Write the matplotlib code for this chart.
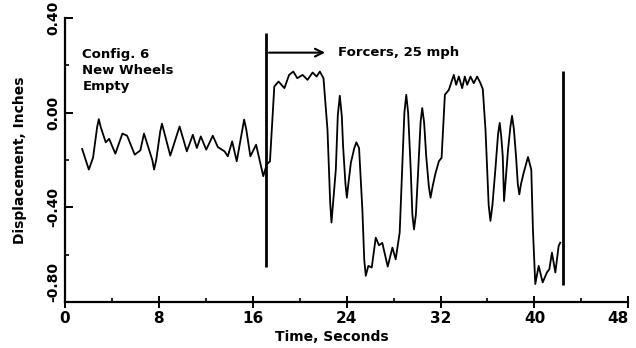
import matplotlib.pyplot as plt
import numpy as np

plt.rcParams['font.family'] = ['Liberation Sans Narrow', 'DejaVu Sans']
plt.rcParams['font.weight'] = 'bold'
plt.rcParams['axes.labelweight'] = 'bold'

# displacement trace, seconds / inches
time_s = [1.47, 2.04, 2.4, 2.75, 2.89, 3.05, 3.48, 3.77, 4.3, 4.9, 5.3, 5.95,
          6.43, 6.74, 7.45, 7.6, 7.78, 8.12, 8.27, 8.45, 8.98, 9.77, 10.39,
          10.9, 11.24, 11.58, 12.04, 12.6, 13.03, 13.6, 13.88, 14.25, 14.64,
          15.12, 15.27, 15.45, 15.8, 16.29, 16.9, 17.19, 17.47, 17.84, 18.2,
          18.7, 19.1, 19.46, 19.8, 20.25, 20.67, 21.1, 21.44, 21.72, 22.03,
          22.37, 22.6, 22.71, 22.85, 23.08, 23.25, 23.42, 23.59, 23.7, 23.9,
          24.02, 24.15, 24.36, 24.65, 24.83, 25.06, 25.34, 25.5, 25.63, 25.85,
          26.14, 26.48, 26.76, 27.04, 27.5, 27.9, 28.18, 28.52, 28.92, 29.08,
          29.24, 29.46, 29.6, 29.74, 29.9, 30.1, 30.3, 30.44, 30.6, 30.78,
          31.0, 31.15, 31.33, 31.58, 31.86, 32.09, 32.37, 32.71, 32.94, 33.13,
          33.33, 33.56, 33.84, 34.07, 34.27, 34.55, 34.83, 35.12, 35.4, 35.6,
          35.83, 36.1, 36.25, 36.42, 36.67, 36.9, 37.04, 37.17, 37.3, 37.41,
          37.75, 37.95, 38.09, 38.25, 38.43, 38.58, 38.71, 38.86, 39.08, 39.45,
          39.73, 39.87, 40.07, 40.36, 40.7, 41.06, 41.27, 41.49, 41.78, 42.06,
          42.2]
disp_in = [-0.153, -0.24, -0.19, -0.06, -0.027, -0.06, -0.125, -0.11, -0.173,
           -0.088, -0.097, -0.177, -0.159, -0.088, -0.2, -0.24, -0.2, -0.08,
           -0.046, -0.08, -0.181, -0.058, -0.163, -0.093, -0.149, -0.1, -0.156,
           -0.097, -0.145, -0.163, -0.184, -0.121, -0.205, -0.07, -0.029, -0.07,
           -0.184, -0.135, -0.268, -0.219, -0.205, 0.111, 0.132, 0.104, 0.16,
           0.174, 0.146, 0.16, 0.139, 0.17, 0.153, 0.174, 0.146, -0.072, -0.38,
           -0.464, -0.38, -0.24, -0.01, 0.072, -0.015, -0.142, -0.3, -0.359,
           -0.3, -0.212, -0.15, -0.125, -0.149, -0.408, -0.62, -0.689, -0.647,
           -0.654, -0.528, -0.56, -0.55, -0.65, -0.57, -0.619, -0.506, 0.0,
           0.076, 0.0, -0.24, -0.43, -0.493, -0.43, -0.24, -0.04, 0.02, -0.04,
           -0.184, -0.31, -0.359, -0.31, -0.254, -0.205, -0.19, 0.076, 0.097,
           0.132, 0.16, 0.118, 0.153, 0.104, 0.153, 0.118, 0.153, 0.125, 0.153,
           0.125, 0.1, -0.072, -0.39, -0.457, -0.39, -0.24, -0.09, -0.043, -0.1,
           -0.184, -0.373, -0.156, -0.06, -0.013, -0.07, -0.184, -0.3, -0.345,
           -0.3, -0.254, -0.187, -0.24, -0.493, -0.724, -0.647, -0.717, -0.675,
           -0.661, -0.591, -0.675, -0.563, -0.549]

# event markers: forcer start and end of record
marker_t = [17.15, 42.42]
marker_lo = [-0.65, -0.73]
marker_hi = [0.335, 0.175]

x_ticks = [0, 8, 16, 24, 32, 40, 48]
y_ticks = [0.4, 0.0, -0.4, -0.8]
y_tick_labels = ['0.40', '0.00', '-0.40', '-0.80']

fig = plt.figure(figsize=(6.36, 3.48), dpi=100)
ax = fig.add_axes([0.102, 0.132, 0.886, 0.816])

ax.plot(time_s, disp_in, color='black', lw=1.3)
ax.vlines(marker_t, marker_lo, marker_hi, color='black', lw=2.0)

ax.annotate('', xy=(22.4, 0.254), xytext=(17.15, 0.254),
            arrowprops=dict(arrowstyle='->', color='black', lw=1.5,
                            mutation_scale=14))
ax.text(23.3, 0.254, 'Forcers, 25 mph', fontsize=9.5, va='center')
ax.text(1.5, 0.18, 'Config. 6\nNew Wheels\nEmpty', fontsize=9.5, va='center',
        linespacing=1.3)

ax.set_xlim(0, 48)
ax.set_ylim(-0.8, 0.4)
ax.set_xticks(x_ticks)
ax.set_xticks(np.arange(4, 48, 8), minor=True)
ax.get_xticklabels()[-1].set_ha('right')
ax.set_yticks(y_ticks)
ax.set_yticks([0.2, -0.2, -0.6], minor=True)
ax.set_yticklabels(y_tick_labels, rotation=90, va='center')
ax.get_yticklabels()[-1].set_va('bottom')

for s in ['top', 'right']:
    ax.spines[s].set_visible(False)
for s in ['left', 'bottom']:
    ax.spines[s].set_linewidth(1.6)

ax.tick_params(axis='x', which='major', direction='inout', length=9, width=1.4,
               labelsize=11, pad=2)
ax.tick_params(axis='x', which='minor', direction='in', length=3, width=1.2)
ax.tick_params(axis='y', which='major', direction='in', length=6, width=1.4,
               labelsize=10, pad=3)
ax.tick_params(axis='y', which='minor', direction='in', length=3, width=1.2)

ax.set_xlabel('Time, Seconds', fontsize=10, labelpad=0)
ax.xaxis.set_label_coords(0.474, -0.1)
ax.set_ylabel('Displacement, Inches', fontsize=10, labelpad=14)

fig.savefig('out.png', dpi=100)
